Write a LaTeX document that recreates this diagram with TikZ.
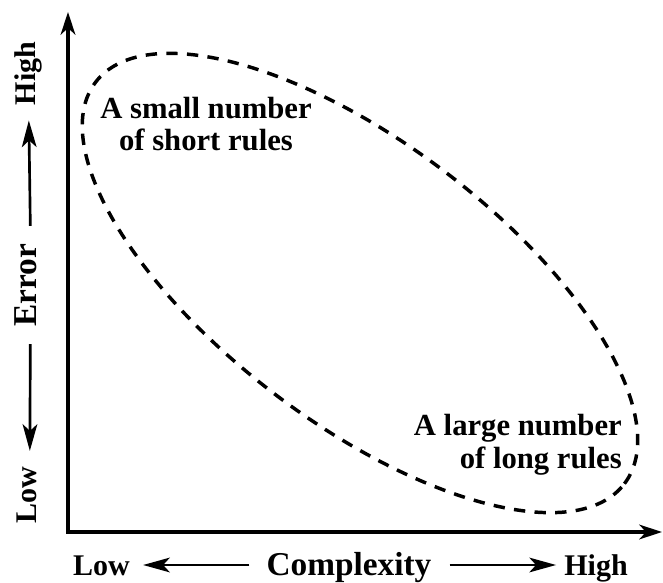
\documentclass[tikz,border=0pt]{standalone}
\usepackage{fontspec}
\setmainfont{Liberation Serif}
\usepackage{tikz}
\usetikzlibrary{arrows.meta, positioning}

\begin{document}
\begin{tikzpicture}[
    x=0.75pt, y=0.75pt,
    axisline/.style={line width=2.6pt, line join=miter, {Stealth[length=17pt, width=11pt, inset=5pt]}-{Stealth[length=17pt, width=11pt, inset=5pt]}},
    pointer/.style={-{Stealth[length=20pt, width=11pt, inset=5pt]}, line width=2pt},
    rulezone/.style={line width=2.6pt, dash pattern=on 8.5pt off 7pt},
    endlabel/.style={font=\bfseries\fontsize{22.5pt}{24pt}\selectfont, inner sep=0pt},
    axisname/.style={font=\bfseries\fontsize{25pt}{27pt}\selectfont, inner sep=0pt},
    rulenote/.style={font=\bfseries\fontsize{23pt}{24.5pt}\selectfont, inner sep=0pt}
]
    \useasboundingbox (0,0) rectangle (663,582);

    % Axes
    \coordinate (origin) at (68,50);
    \coordinate (ytip) at (68,570);
    \coordinate (xtip) at (662,50);
    \draw [axisline] (ytip) |- (xtip);

    % Nodes
    \node (xname) [axisname, anchor=base] at (349,7) {Complexity};
    \node (xlow) [endlabel, anchor=base] at (101.5,7) {Low};
    \node (xhigh) [endlabel, anchor=base] at (596,7) {High};
    \node (yname) [axisname, rotate=90, anchor=base] at (37,296.5) {Error};
    \node (yhigh) [endlabel, rotate=90, anchor=base] at (35.5,508.5) {High};
    \node (ylow) [endlabel, rotate=90, anchor=base] at (36.5,86.5) {Low};

    \coordinate (zone) at (360,299);
    \node (few) [rulenote, align=center] at (206,458) {A small number\\of short rules};
    \node (many) [rulenote, align=right, anchor=east] at (622,137.5) {A large number\\of long rules};

    % Paths
    \draw [pointer] ([shift={(-12.75pt,7.5pt)}]xname.base west) -- ([shift={(9.75pt,7.5pt)}]xlow.base east);
    \draw [pointer] ([shift={(13.5pt,7.5pt)}]xname.base east) -- ([shift={(-6pt,7.5pt)}]xhigh.base west);
    \draw [pointer] ([shift={(-5pt,13.5pt)}]yname.base east) -- ([shift={(-5pt,-11.25pt)}]yhigh.base west);
    \draw [pointer] ([shift={(-5pt,-12.75pt)}]yname.base west) -- ([shift={(-5pt,12pt)}]ylow.base east);

    \draw [rulezone, rotate around={-37.2:(zone)}] (zone) ellipse [x radius=249pt, y radius=105pt];
\end{tikzpicture}
\end{document}
